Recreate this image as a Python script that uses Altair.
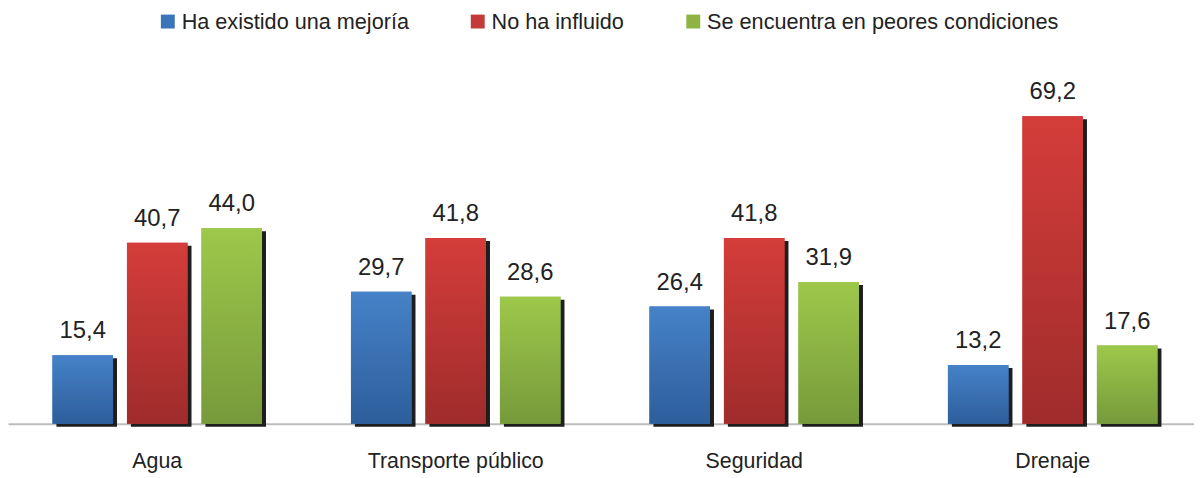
import altair as alt
import pandas as pd

categories = ["Agua", "Transporte público", "Seguridad", "Drenaje"]
series = ["Ha existido una mejoría", "No ha influido", "Se encuentra en peores condiciones"]
mejoria = [15.4, 29.7, 26.4, 13.2]
no_influido = [40.7, 41.8, 41.8, 69.2]
peores = [44.0, 28.6, 31.9, 17.6]

colors = ["#3B74BA", "#C43A38", "#8DB443"]
grad_top = ["#4682C8", "#D43D3A", "#9DC84A"]
grad_bot = ["#2D5E9C", "#9F2C2B", "#769A3B"]

rows = []
for vals, s in zip([mejoria, no_influido, peores], series):
    for c, v in zip(categories, vals):
        rows.append({"cat": c, "serie": s, "valor": v})
df = pd.DataFrame(rows)

FONT = "Liberation Sans"

x = alt.X("cat:N", sort=categories,
          scale=alt.Scale(paddingInner=0, paddingOuter=0, rangeMin=0, rangeMax=1202),
          axis=alt.Axis(title=None, ticks=False, grid=False, labelAngle=0,
                        domainColor="#BDBDBD", domainWidth=2,
                        labelFont=FONT, labelFontSize=21.5, labelColor="#222222",
                        labelBaseline="alphabetic", labelPadding=44))
xo = alt.XOffset("serie:N", sort=series,
                 scale=alt.Scale(paddingInner=0.187, paddingOuter=0.597))
xo_shadow = alt.XOffset("serie:N", sort=series,
                        scale=alt.Scale(paddingInner=0.187, paddingOuter=0.597, align=0.5447))
y = alt.Y("valor:Q", scale=alt.Scale(domain=[0, 80]), axis=None)

base = alt.Chart(df)

shadow = base.mark_bar(color="#1E1E1E", yOffset=3, y2Offset=0).encode(x=x, xOffset=xo_shadow, y=y)

legend_bars = base.mark_bar().encode(
    x=x, xOffset=xo, y=y,
    color=alt.Color("serie:N", sort=series,
                    scale=alt.Scale(domain=series, range=colors),
                    legend=alt.Legend(title=None, orient="none", direction="horizontal",
                                      legendX=150, legendY=-58,
                                      symbolType="square", symbolSize=196,
                                      symbolStrokeWidth=0, labelOffset=3,
                                      labelFont=FONT, labelFontSize=21.8,
                                      labelColor="#222222", columnPadding=58,
                                      labelLimit=500)))

grad_layers = []
for s, t, b in zip(series, grad_top, grad_bot):
    g = alt.LinearGradient(gradient="linear", x1=0, x2=0, y1=0, y2=1,
                           stops=[alt.GradientStop(color=t, offset=0),
                                  alt.GradientStop(color=b, offset=1)])
    grad_layers.append(
        base.transform_filter(alt.datum.serie == s)
        .mark_bar(color=g)
        .encode(x=x, xOffset=xo, y=y)
    )

labels = base.transform_calculate(
    lab="replace(format(datum.valor, '.1f'), '.', ',')"
).mark_text(font=FONT, fontSize=24, color="#222222", baseline="alphabetic", dy=-17).encode(
    x=x, xOffset=xo, y=y, text="lab:N")

main = alt.layer(legend_bars, *grad_layers, labels)

chart = alt.layer(shadow, main).resolve_scale(xOffset="independent").properties(
    width=1194, height=358,
    padding={"left": 0, "right": 0, "top": 59, "bottom": 54},
    autosize=alt.AutoSizeParams(type="none"),
).configure(background="white").configure_view(stroke=None)

chart.save("out.html", embed_options={"renderer": "svg", "actions": False})
